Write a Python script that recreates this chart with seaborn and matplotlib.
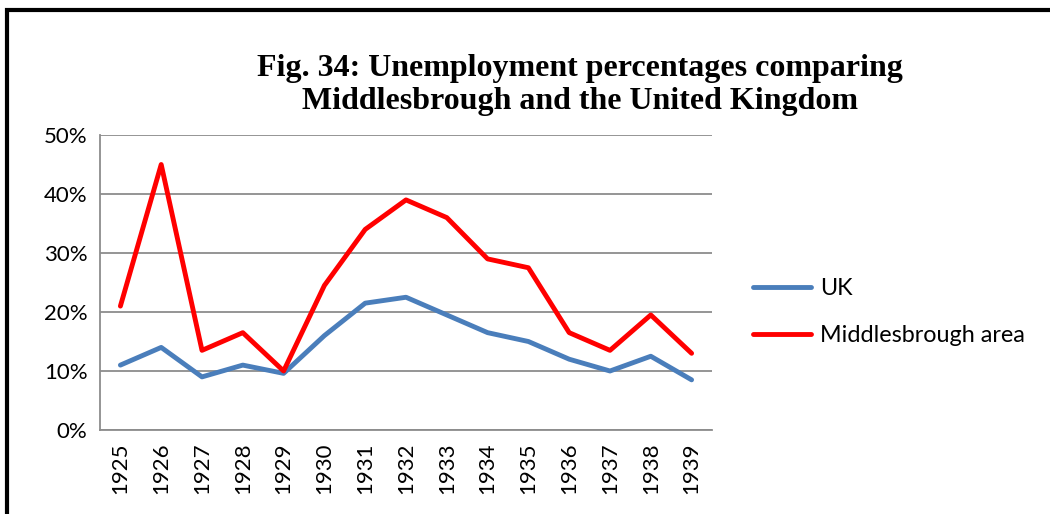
import pandas as pd
import matplotlib.pyplot as plt
import matplotlib.patches as mpatches
import seaborn as sns

# Data
years = list(range(1925, 1940))
uk = [11, 14, 9, 11, 9.6, 16, 21.5, 22.5, 19.5, 16.5, 15, 12, 10, 12.5, 8.5]
middlesbrough = [21, 45, 13.5, 16.5, 10, 24.5, 34, 39, 36, 29, 27.5, 16.5, 13.5, 19.5, 13]
series_names = ['UK', 'Middlesbrough area']
series_colors = ['#4a7ebb', '#ff0000']

df = pd.DataFrame({'year': years * 2,
                   'value': uk + middlesbrough,
                   'series': [series_names[0]] * len(years) + [series_names[1]] * len(years)})

sns.set_style("white")
plt.rcParams['font.family'] = ['Lato', 'DejaVu Sans']
plt.rcParams['text.color'] = 'black'
plt.rcParams['xtick.color'] = 'black'
plt.rcParams['ytick.color'] = 'black'

fig = plt.figure(figsize=(10.5, 5.14), dpi=100)
ax = fig.add_axes([100 / 1050, 1 - 430 / 514, 612 / 1050, 295 / 514])

sns.lineplot(data=df, x='year', y='value', hue='series', palette=series_colors,
             linewidth=3.5, ax=ax, legend=True)

ax.set_xlim(1924.5, 1939.5)
ax.set_ylim(0, 50)
ax.set_xticks(years)
ax.set_xticklabels([str(y) for y in years], rotation=90, fontsize=16)
ax.set_yticks([0, 10, 20, 30, 40, 50])
ax.set_yticklabels(['0%', '10%', '20%', '30%', '40%', '50%'], fontsize=16)
ax.tick_params(length=0, pad=9)
ax.set_xlabel('')
ax.set_ylabel('')
ax.yaxis.grid(True, color='#8c8c8c', linewidth=1.3)
for side in ['top', 'right']:
    ax.spines[side].set_visible(False)
for side in ['left', 'bottom']:
    ax.spines[side].set_color('#8c8c8c')
    ax.spines[side].set_linewidth(1.3)

leg = ax.legend(loc='center left', bbox_to_anchor=(1.052, 0.40), frameon=False,
                fontsize=16.8, handlelength=2.5, handletextpad=0.35,
                labelspacing=1.1, borderaxespad=0)
for line in leg.get_lines():
    line.set_linewidth(3.5)

fig.text(580 / 1050, 1 - 85 / 514,
         'Fig. 34: Unemployment percentages comparing\nMiddlesbrough and the United Kingdom',
         ha='center', va='center', fontsize=23, fontweight='bold',
         family='Liberation Serif', linespacing=1.2, color='black')

# black frame of the original figure
fig.patches.append(mpatches.Rectangle((7 / 1050, -0.1), 1.2, 1 - 10 / 514 + 0.1,
                                      transform=fig.transFigure, fill=False,
                                      edgecolor='black', linewidth=3))

fig.savefig('out.png', dpi=100)
